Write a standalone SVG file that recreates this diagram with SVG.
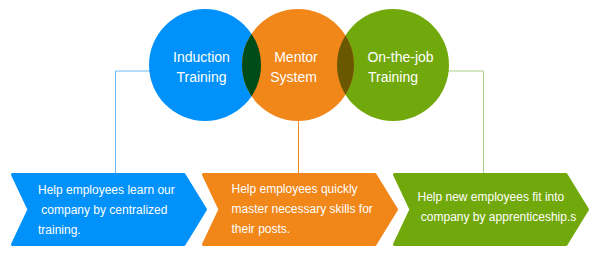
<svg xmlns="http://www.w3.org/2000/svg" width="596" height="259" viewBox="0 0 596 259">
<style>
.t{font-family:"Liberation Sans",Arial,sans-serif;fill:#fff}
.ct{font-size:14px;text-anchor:middle}
.bt{font-size:12px}
.conn{fill:none;stroke-width:1}
.chev{stroke-width:3;stroke-linejoin:round}
</style>
<defs>
<clipPath id="cBlue"><circle cx="205" cy="65" r="56"/></clipPath>
<clipPath id="cGreen"><circle cx="393" cy="65" r="56"/></clipPath>
</defs>
<rect width="596" height="259" fill="#fff"/>
<g id="connectors">
<polyline class="conn" stroke="#6BB9F5" points="150,71 115.5,71 115.5,173"/>
<line class="conn" stroke="#F0851A" x1="298.5" y1="120" x2="298.5" y2="173"/>
<polyline class="conn" stroke="#A9CD85" points="448,71 483.5,71 483.5,173"/>
</g>
<g id="induction">
<circle cx="205" cy="65" r="56" fill="#0091FA"/>
</g>
<g id="onthejob">
<circle cx="393" cy="65" r="56" fill="#71A80B"/>
</g>
<g id="mentor">
<circle cx="298" cy="65" r="56" fill="#F18619"/>
<circle cx="298" cy="65" r="56" fill="#004C18" clip-path="url(#cBlue)"/>
<circle cx="298" cy="65" r="56" fill="#6A5801" clip-path="url(#cGreen)"/>
</g>
<g id="circle-labels">
<text class="t ct" x="201.5" y="62">Induction</text>
<text class="t ct" x="201.5" y="82">Training</text>
<text class="t ct" x="296" y="62">Mentor</text>
<text class="t ct" x="293.5" y="82">System</text>
<text class="t ct" x="400.5" y="62">On-the-job</text>
<text class="t ct" x="393" y="82">Training</text>
</g>
<g id="box-induction">
<polygon class="chev" fill="#0091FA" stroke="#0091FA" points="12.5,174.5 184,174.5 205.5,209.5 184,244.5 12.5,244.5 29,209.5"/>
<text class="t bt" x="38" y="194">Help employees learn our</text>
<text class="t bt" x="38" y="214" xml:space="preserve"> company by centralized</text>
<text class="t bt" x="38" y="234">training.</text>
</g>
<g id="box-mentor">
<polygon class="chev" fill="#F18619" stroke="#F18619" points="203.5,174.5 375,174.5 396.5,209.5 375,244.5 203.5,244.5 220,209.5"/>
<text class="t bt" x="231.5" y="193">Help employees quickly</text>
<text class="t bt" x="231.5" y="213">master necessary skills for</text>
<text class="t bt" x="231.5" y="233">their posts.</text>
</g>
<g id="box-onthejob">
<polygon class="chev" fill="#71A80B" stroke="#71A80B" points="394.5,174.5 566,174.5 587.5,209.5 566,244.5 394.5,244.5 411,209.5"/>
<text class="t bt" x="417.5" y="201">Help new employees fit into</text>
<text class="t bt" x="417.5" y="221" xml:space="preserve"> company by apprenticeship.s</text>
</g>
</svg>
